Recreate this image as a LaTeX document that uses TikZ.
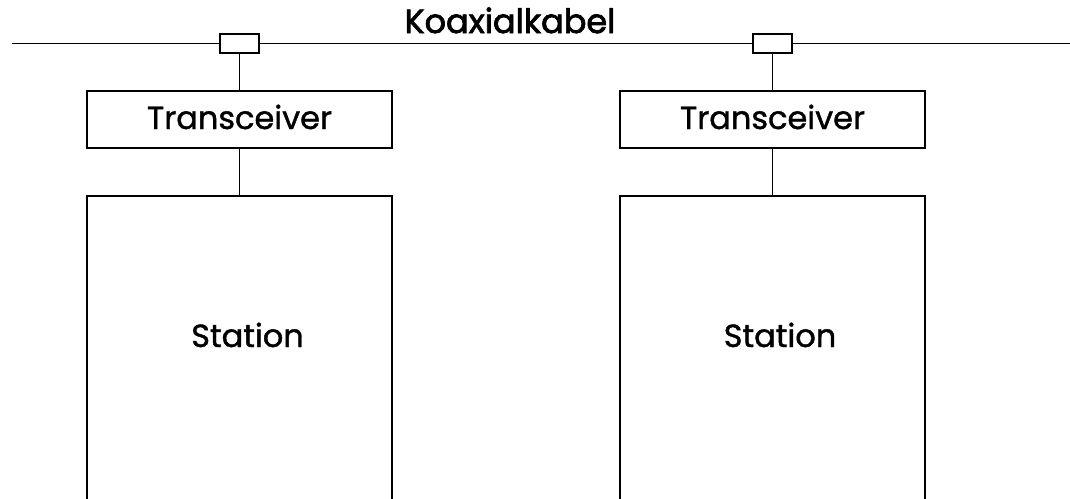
\documentclass[tikz,border=0pt]{standalone}
\usepackage{fontspec}
\setmainfont{Poppins}[FakeBold=1.2]
\newfontfamily\heavyfont{Poppins}[FakeBold=2.2]
\begin{document}
\begin{tikzpicture}[x=1pt,y=-1pt,line width=1.7pt,
  lbl/.style={inner sep=0pt,font=\fontsize{32}{36}\selectfont},
  title/.style={inner sep=0pt,font=\heavyfont\fontsize{33.5}{38}\selectfont},
  tap/.style={draw,minimum width=39pt,minimum height=19pt,inner sep=0pt}]
\useasboundingbox (0,0) rectangle (1070,498);
% cable
\coordinate (cl) at (12,43.5);
\coordinate (cr) at (1070,43.5);
\node[tap] (t1) at (239.5,43.5) {};
\node[tap] (t2) at (772.5,43.5) {};
\draw (cl) -- (t1.west) (t1.east) -- (t2.west) (t2.east) -- (cr);
\node[title,anchor=base] (kk) at (510,33) {Koaxialkabel};
% transceivers
\draw (87,91) rectangle (392,148);
\node[lbl,anchor=base] (tr1) at (239.5,129) {Transceiver};
\draw (620,91) rectangle (925,148);
\node[lbl,anchor=base] (tr2) at (772.5,129) {Transceiver};
\coordinate (tr1t) at (239.5,91);
\coordinate (tr1b) at (239.5,148);
\coordinate (tr2t) at (772.5,91);
\coordinate (tr2b) at (772.5,148);
\draw (t1.south) -- (tr1t);
\draw (t2.south) -- (tr2t);
% stations (open at bottom)
\coordinate (s1) at (239.5,196);
\coordinate (s2) at (772.5,196);
\draw (87,500) -- (87,196) -- (392,196) -- (392,500);
\draw (620,500) -- (620,196) -- (925,196) -- (925,500);
\node[lbl,anchor=base] (st1) at (247.5,347) {Station};
\node[lbl,anchor=base] (st2) at (780,347) {Station};
\draw (tr1b) -- (s1);
\draw (tr2b) -- (s2);
\end{tikzpicture}
\end{document}
